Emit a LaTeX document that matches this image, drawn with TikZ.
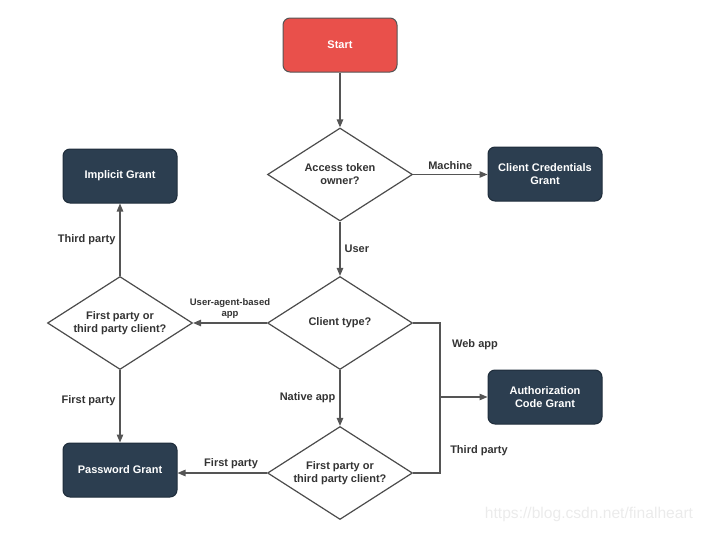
\documentclass[tikz,border=0pt]{standalone}
\usepackage{fontspec}
\setmainfont{Liberation Sans}
\usetikzlibrary{shapes.geometric,arrows.meta}
\definecolor{navy}{HTML}{2C3E50}
\definecolor{navyedge}{HTML}{1F2D3B}
\definecolor{startred}{HTML}{E9504B}
\definecolor{edgegrey}{HTML}{555555}
\definecolor{txt}{HTML}{333333}
\definecolor{mark}{HTML}{EBEBEB}
\begin{document}
\begin{tikzpicture}[x=1pt,y=-1pt,
  font=\fontsize{11}{13}\selectfont\bfseries,
  grant/.style={draw=navyedge,line width=1pt,fill=navy,text=white,rounded corners=7pt,
    minimum width=114pt,minimum height=54pt,align=center,inner sep=2pt},
  startbox/.style={grant,draw=edgegrey,fill=startred},
  decision/.style={diamond,draw=edgegrey!90!black,line width=1.2pt,fill=white,text=txt,
    minimum width=145pt,minimum height=93pt,aspect=1.56,inner sep=0pt,align=center},
  arr/.style={draw=edgegrey,line width=1.2pt,-{Triangle[length=8pt,width=6.5pt]}},
  link/.style={draw=edgegrey,line width=1.2pt},
  lbl/.style={text=txt,inner sep=4pt}]
\useasboundingbox (0,0) rectangle (705,533);

% nodes
\node[startbox] (start) at (340,45) {Start};
\node[decision] (owner) at (340,174.5) {Access token\\owner?};
\node[grant] (ccg) at (545,174) {Client Credentials\\Grant};
\node[grant] (imp) at (120,176) {Implicit Grant};
\node[decision] (ctype) at (340,323) {Client type?};
\node[decision] (partyL) at (120,323) {First party or\\third party client?};
\node[grant] (acg) at (545,397) {Authorization\\Code Grant};
\node[decision] (partyB) at (340,473) {First party or\\third party client?};
\node[grant] (pw) at (120,470) {Password Grant};
\coordinate (join) at (440,397);

% connectors
\draw[arr] (start) -- (owner);
\draw[arr] (owner.east) -- (owner.east -| ccg.west) node[lbl,midway,above] {Machine};
\draw[arr] (owner.south) -- (ctype.north) node[lbl,midway,right] {User};
\draw[arr] (ctype.west) -- (partyL.east)
  node[lbl,midway,above,align=center,font=\fontsize{9.5}{11}\selectfont\bfseries] {User-agent-based\\app};
\draw[arr] (partyL.north) -- (imp.south) node[lbl,midway,left] {Third party};
\draw[arr] (partyL.south) -- (pw.north) node[lbl,pos=0.42,left] {First party};
\draw[arr] (ctype.south) -- (partyB.north) node[lbl,midway,left] {Native app};
\draw[arr] (partyB.west) -- (partyB.west -| pw.east) node[lbl,pos=0.4,above] {First party};
\draw[link] (ctype.east) -| (join);
\draw[link] (partyB.east) -| (join);
\draw[arr] (join) -- (acg.west);
\node[lbl] (webapp) at (475,345) {Web app};
\node[lbl] (thirdB) at (479,451) {Third party};

% site address
\node[text=mark,font=\fontsize{15.6}{18}\selectfont] (site) at (589,514) {https://blog.csdn.net/finalheart};
\end{tikzpicture}
\end{document}
